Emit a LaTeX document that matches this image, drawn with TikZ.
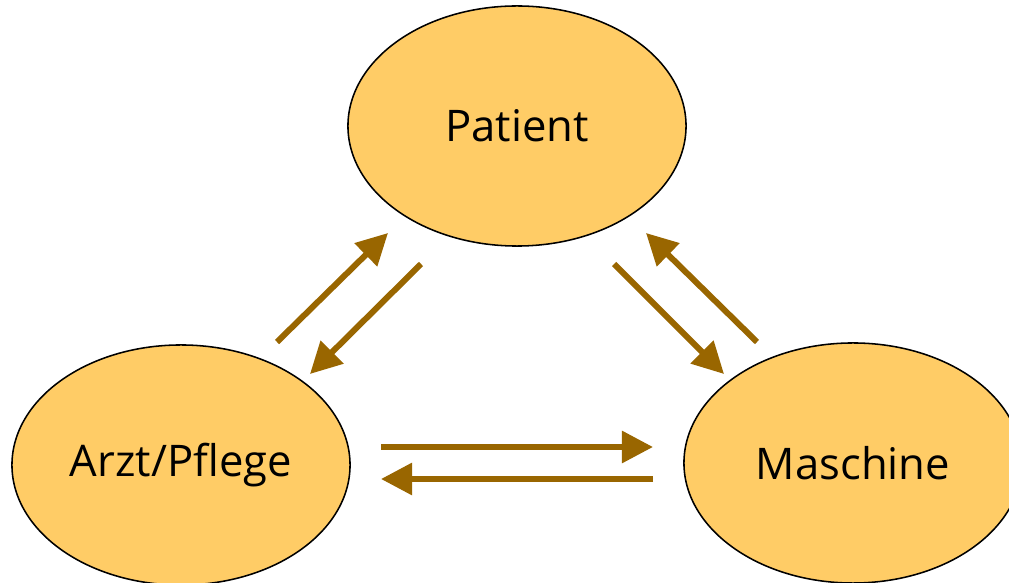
\documentclass[tikz,border=0pt]{standalone}
\usepackage{fontspec}
\setmainfont{Open Sans}
\usepackage{xcolor}
\usetikzlibrary{positioning,arrows.meta,shapes.geometric}

\definecolor{gelb}{RGB}{255,204,102}
\definecolor{braun}{RGB}{153,102,0}

\begin{document}
\begin{tikzpicture}[
      x=0.025cm, y=-0.025cm,
      font=\fontsize{31}{37}\selectfont,
      rolle/.style={ellipse, draw, line width=1.1pt, fill=gelb, minimum width=8.45cm, minimum height=6cm, inner sep=0pt},
      arrow/.style={-{Triangle[length=0.78cm, width=0.78cm]}, line width=0.15cm, draw=braun, fill=braun}
    ]
    \useasboundingbox (0,0) rectangle (1009,583);
    \clip (0,0) rectangle (1009,583);

    \node[rolle] (patient)  at (517,126) {Patient};
    \node[rolle] (arzt)     at (181,465) {Arzt/Pflege};
    \node[rolle] (maschine) at (853,463) {Maschine};

    % Endpunkte der Pfeile
    \coordinate (ap1) at (277,342);  \coordinate (ap2) at (388,233);
    \coordinate (pa1) at (421,264);  \coordinate (pa2) at (310,374);
    \coordinate (pm1) at (614,264);  \coordinate (pm2) at (724,374);
    \coordinate (mp1) at (757,342);  \coordinate (mp2) at (646,233);
    \coordinate (am1) at (381,447);  \coordinate (am2) at (653,447);
    \coordinate (ma1) at (653,479);  \coordinate (ma2) at (381,479);

    \draw[arrow] (ap1) -- (ap2);
    \draw[arrow] (pa1) -- (pa2);
    \draw[arrow] (pm1) -- (pm2);
    \draw[arrow] (mp1) -- (mp2);
    \draw[arrow] (am1) -- (am2);
    \draw[arrow] (ma1) -- (ma2);
  \end{tikzpicture}
\end{document}
